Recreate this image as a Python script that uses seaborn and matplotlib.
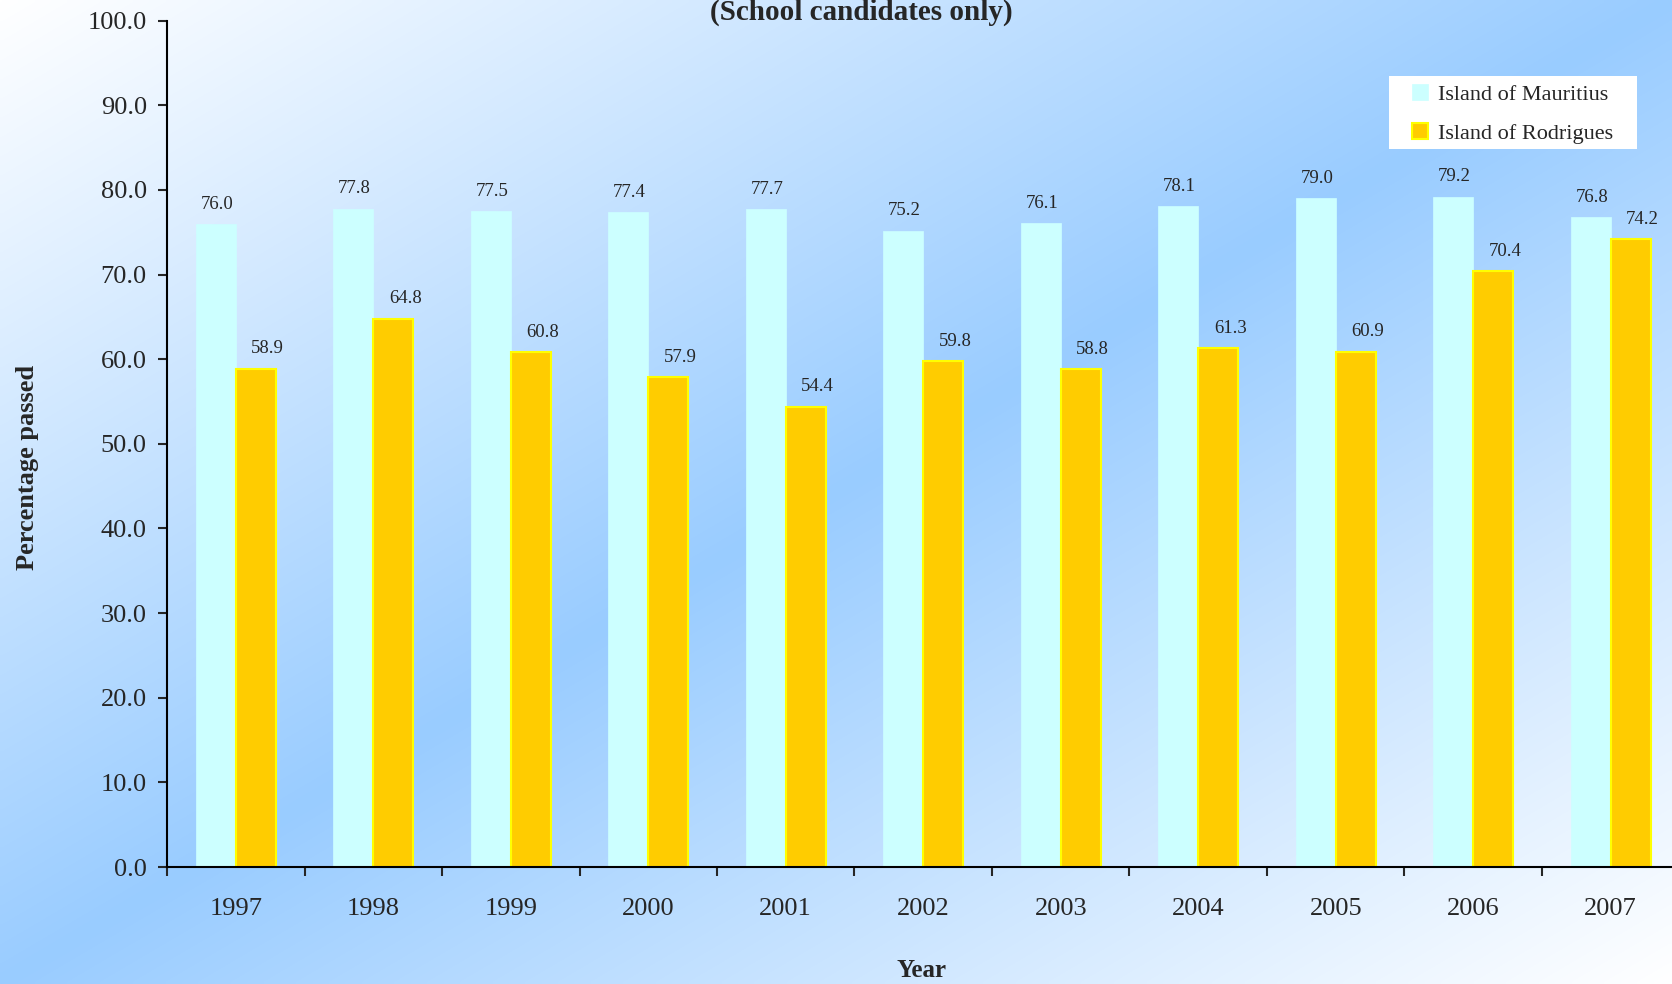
import numpy as np
import pandas as pd
import seaborn as sns
import matplotlib
matplotlib.use("Agg")
import matplotlib.pyplot as plt
from matplotlib.patches import Patch, Rectangle

# values
years = ["1997", "1998", "1999", "2000", "2001", "2002", "2003", "2004", "2005", "2006", "2007"]
mauritius = [76.0, 77.8, 77.5, 77.4, 77.7, 75.2, 76.1, 78.1, 79.0, 79.2, 76.8]
rodrigues = [58.9, 64.8, 60.8, 57.9, 54.4, 59.8, 58.8, 61.3, 60.9, 70.4, 74.2]
regions = ["Island of Mauritius", "Island of Rodrigues"]
yticks = [0, 10, 20, 30, 40, 50, 60, 70, 80, 90, 100]

df = pd.DataFrame({
    "Year": years * 2,
    "Region": [regions[0]] * len(years) + [regions[1]] * len(years),
    "Percentage": mauritius + rodrigues,
})

sns.set_style("ticks")
plt.rcParams["font.family"] = ["Liberation Serif", "DejaVu Serif"]

W, H = 1672, 984
fig = plt.figure(figsize=(W / 100, H / 100), dpi=100)

# diagonal background gradient: white corners, blue band along the anti-diagonal
bg = fig.add_axes([0, 0, 1, 1], zorder=-5)
xx, yy = np.meshgrid(np.linspace(0, 1, 400), np.linspace(0, 1, 240))
t = (xx + yy) / 2
s = 1 - np.abs(2 * t - 1)
white = np.array([1.0, 1.0, 1.0])
blue = np.array([0.6, 0.8, 1.0])
grad = white[None, None, :] * (1 - s[..., None]) + blue[None, None, :] * s[..., None]
bg.imshow(grad, aspect="auto", extent=[0, 1, 1, 0], interpolation="bilinear")
bg.set_xlim(0, 1)
bg.set_ylim(1, 0)
bg.axis("off")

left, right = 167 / W, 1679.5 / W
bottom, top = (H - 867) / H, (H - 20.7) / H
ax = fig.add_axes([left, bottom, right - left, top - bottom])
ax.set_facecolor("none")

sns.barplot(data=df, x="Year", y="Percentage", hue="Region",
            palette=["#CCFFFF", "#FFCC00"], width=0.58, saturation=1,
            errorbar=None, legend=False, ax=ax)

for p in ax.containers[0]:
    p.set_edgecolor("#CCFFFF")
    p.set_linewidth(0.5)
for p in ax.containers[1]:
    p.set_edgecolor("#FFFF00")
    p.set_linewidth(1.5)

# value labels
for cont, vals, dx in [(ax.containers[0], mauritius, 1), (ax.containers[1], rodrigues, 12)]:
    for p, v in zip(cont, vals):
        ax.annotate(f"{v:.1f}", (p.get_x() + p.get_width() / 2, v),
                    xytext=(dx * 0.72, 11), textcoords="offset points",
                    ha="center", va="baseline", fontsize=13.5)

ax.set_xlim(-0.5, len(years) - 0.5)
ax.set_ylim(0, 100)
ax.set_yticks(yticks)
ax.set_yticklabels([f"{v:.1f}" for v in yticks])
ax.set_xticks(np.arange(-0.5, len(years), 1), minor=True)
ax.tick_params(axis="y", which="major", length=6.5, width=1.5, pad=8, labelsize=19)
ax.tick_params(axis="x", which="major", length=0, pad=22.5, labelsize=19)
ax.tick_params(axis="x", which="minor", length=6.5, width=1.5, direction="out")
ax.set_xlabel("")
ax.set_ylabel("")
for side in ["top", "right"]:
    ax.spines[side].set_visible(False)
for side in ["left", "bottom"]:
    ax.spines[side].set_linewidth(1.5)
    ax.spines[side].set_color("black")

fig.text(861 / W, 1 - 20 / H, "(School candidates only)", ha="center", va="baseline",
         fontsize=21, fontweight="bold")
fig.text(27.5 / W, 1 - 467 / H, "Percentage passed", rotation=90, ha="center", va="center",
         fontsize=19, fontweight="bold")
fig.text(921.5 / W, 7 / H, "Year", ha="center", va="baseline", fontsize=18, fontweight="bold")

# legend with white box
fig.add_artist(Rectangle((1389 / W, 1 - 149 / H), (1637 - 1389) / W, (149 - 76) / H,
                         transform=fig.transFigure, facecolor="white", edgecolor="none", zorder=3))
handles = [Patch(facecolor="#CCFFFF", edgecolor="#CCFFFF", linewidth=0.5),
           Patch(facecolor="#FFCC00", edgecolor="#FFFF00", linewidth=1.5)]
leg = fig.legend(handles, regions, loc="upper left", bbox_to_anchor=(1412 / W, 1 - 84 / H),
                 frameon=False, borderpad=0, borderaxespad=0, fontsize=16,
                 handlelength=0.72, handleheight=0.72, handletextpad=0.45, labelspacing=0.82)
leg.set_zorder(4)

fig.savefig("out.png", dpi=100)
